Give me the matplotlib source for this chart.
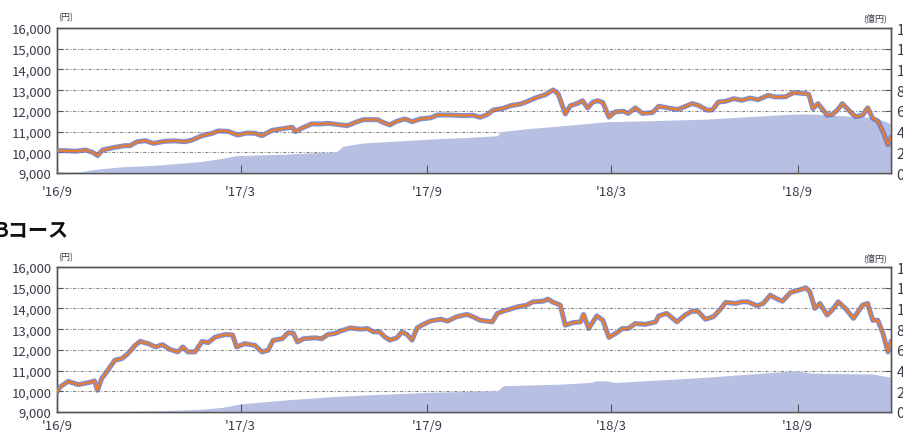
#!/usr/bin/env python3
import numpy as np
import pandas as pd

import matplotlib
matplotlib.use("Agg")
import matplotlib.pyplot as plt
import matplotlib.patheffects as pe

plt.rcParams["font.family"] = ["Noto Sans CJK JP", "DejaVu Sans"]

START = pd.Timestamp("2016-09-01")
END_DAY = 822

# A course: base price (yen) and net assets (100M yen), x = days since 2016/9/1
a_price_days = [0, 8, 18, 28, 35, 40, 45, 57, 67, 72, 79, 87, 95, 106, 116, 126, 133, 143, 153, 159,
                169, 178, 187, 195, 202, 212, 225, 232, 235, 242, 251, 261, 267, 286, 296, 302, 316, 321,
                328, 335, 343, 350, 358, 368, 375, 387, 400, 410, 417, 424, 430, 440, 447, 457, 463, 473,
                481, 489, 494, 501, 506, 513, 518, 523, 528, 533, 538, 544, 550, 558, 563, 570, 577, 587,
                593, 606, 612, 626, 632, 641, 646, 652, 659, 667, 675, 683, 691, 701, 708, 718, 726, 738,
                741, 745, 750, 759, 764, 769, 774, 782, 787, 794, 799, 804, 809, 814, 819, 822]
a_price = [10080, 10080, 10050, 10110, 10000, 9840, 10115, 10240, 10320, 10320, 10510, 10560, 10430,
           10530, 10550, 10510, 10590, 10800, 10915, 11030, 11010, 10830, 10930, 10920, 10800, 11060,
           11160, 11210, 11000, 11180, 11370, 11370, 11400, 11285, 11480, 11575, 11575, 11450, 11320,
           11500, 11610, 11480, 11610, 11660, 11800, 11800, 11770, 11790, 11690, 11820, 12040, 12125,
           12250, 12330, 12440, 12650, 12770, 13010, 12815, 11850, 12250, 12360, 12490, 12140, 12420,
           12490, 12400, 11700, 11950, 11985, 11875, 12145, 11875, 11920, 12225, 12110, 12065, 12350,
           12270, 12030, 12050, 12430, 12460, 12590, 12510, 12620, 12540, 12750, 12670, 12680, 12880,
           12830, 12790, 12110, 12350, 11795, 11820, 12030, 12350, 11950, 11715, 11795, 12145, 11635,
           11510, 11000, 10365, 10700]
a_assets_days = [0, 21, 42, 64, 92, 113, 141, 163, 176, 200, 228, 259, 274, 276, 282, 302, 338, 368,
                 407, 434, 437, 466, 499, 542, 585, 639, 683, 728, 744, 770, 804, 816, 822]
a_assets = [0.0, 0.1, 0.4, 0.6, 0.72, 0.87, 1.1, 1.42, 1.67, 1.75, 1.83, 2.0, 2.05, 2.1, 2.6, 2.9,
            3.1, 3.28, 3.45, 3.6, 3.99, 4.3, 4.57, 4.95, 5.05, 5.2, 5.45, 5.7, 5.7, 5.55, 5.37, 5.0, 4.73]

# B course
b_price_days = [0, 3, 11, 21, 31, 37, 40, 44, 50, 57, 64, 70, 77, 82, 90, 97, 104, 111, 119, 124, 129,
                136, 143, 149, 156, 166, 173, 177, 185, 195, 202, 208, 213, 222, 228, 233, 237, 243, 254,
                261, 267, 274, 279, 289, 299, 306, 312, 318, 323, 328, 335, 340, 345, 350, 355, 361, 368,
                378, 385, 394, 404, 410, 417, 429, 434, 440, 447, 454, 463, 469, 479, 484, 489, 496, 501,
                509, 516, 519, 524, 532, 538, 544, 553, 557, 563, 570, 580, 590, 593, 601, 611, 619, 626,
                632, 639, 647, 654, 659, 669, 675, 681, 690, 696, 703, 710, 715, 723, 731, 738, 742, 747,
                752, 759, 764, 770, 777, 785, 794, 799, 804, 809, 814, 819, 822]
b_price = [9970, 10210, 10480, 10320, 10420, 10500, 10050, 10610, 11010, 11500, 11580, 11820, 12220,
           12410, 12300, 12140, 12250, 12030, 11900, 12140, 11900, 11900, 12410, 12350, 12620, 12740,
           12720, 12140, 12300, 12220, 11900, 11980, 12460, 12540, 12830, 12800, 12380, 12540, 12580,
           12540, 12740, 12790, 12900, 13060, 13000, 13030, 12870, 12870, 12630, 12470, 12580, 12870,
           12740, 12470, 13060, 13230, 13390, 13480, 13390, 13600, 13710, 13600, 13430, 13350, 13760,
           13870, 13970, 14080, 14160, 14320, 14350, 14450, 14300, 14160, 13190, 13320, 13350, 13710,
           13030, 13640, 13430, 12600, 12870, 13030, 13030, 13270, 13230, 13350, 13640, 13760, 13350,
           13680, 13870, 13850, 13480, 13600, 13970, 14290, 14240, 14320, 14320, 14130, 14240, 14640,
           14450, 14350, 14770, 14880, 15000, 14800, 14000, 14240, 13680, 13920, 14320, 14000, 13520,
           14160, 14240, 13430, 13430, 12800, 11900, 12380]
b_assets_days = [0, 31, 92, 141, 163, 180, 228, 274, 302, 368, 434, 440, 499, 526, 532, 543, 550, 639,
                 728, 744, 804, 822]
b_assets = [0.0, 0.02, 0.1, 0.25, 0.45, 0.77, 1.19, 1.5, 1.64, 1.9, 2.06, 2.54, 2.7, 2.86, 3.02, 3.0,
            2.85, 3.35, 3.99, 3.75, 3.67, 3.35]

x_ticks = ["2016-09-01", "2017-03-01", "2017-09-01", "2018-03-01", "2018-09-01"]
x_labels = ["'16/9", "'17/3", "'17/9", "'18/3", "'18/9"]
left_ticks = [9000, 10000, 11000, 12000, 13000, 14000, 15000, 16000]
right_ticks = [0, 2, 4, 6, 8, 10, 12, 14]

LINE_C = "#ef7b22"
EDGE_C = "#6a70b6"
AREA_C = "#b7c0e3"
SPINE_C = "#555555"
TEXT_C = "#3a3a4a"


def to_dates(days):
    return START + pd.to_timedelta(np.asarray(days), unit="D")


def draw_panel(fig, rect, price_days, price, assets_days, assets, xpad):
    ax = fig.add_axes(rect)      # price, left axis
    ax2 = ax.twinx()             # net assets, right axis
    ax.set_zorder(ax2.get_zorder() + 1)
    ax.patch.set_visible(False)
    ax2.patch.set_visible(True)
    ax2.patch.set_facecolor("white")

    ax2.fill_between(to_dates(assets_days), 0, assets, color=AREA_C, lw=0, zorder=3)
    ax2.set_ylim(0, 14)
    ax2.set_yticks(right_ticks)
    ax2.grid(axis="y", color="#8a8a8a", lw=0.8, ls=(0, (3, 1.5, 1, 1.5)), zorder=1)
    ax2.set_axisbelow(True)

    ax.plot(to_dates(price_days), price, color=LINE_C, lw=1.4, zorder=5,
            path_effects=[pe.Stroke(linewidth=3.6, foreground=EDGE_C, alpha=0.8), pe.Normal()])
    ax.set_ylim(9000, 16000)
    ax.set_yticks(left_ticks)
    ax.set_yticklabels([f"{v:,}" for v in left_ticks])

    ax.set_xlim(START, START + pd.Timedelta(days=END_DAY))
    ax.set_xticks(pd.to_datetime(x_ticks))
    ax.set_xticklabels(x_labels)

    ax.tick_params(axis="y", direction="in", length=4, width=0.8, color=SPINE_C,
                   labelsize=9.5, labelcolor=TEXT_C, pad=4)
    ax2.tick_params(axis="y", direction="in", length=4, width=0.8, color=SPINE_C,
                    labelsize=10.5, labelcolor=TEXT_C, pad=4)
    ax.tick_params(axis="x", direction="in", length=6, width=0.8, color=SPINE_C,
                   labelsize=9.5, labelcolor=TEXT_C, pad=xpad)

    for a in (ax, ax2):
        for s in a.spines.values():
            s.set_color(SPINE_C)
            s.set_linewidth(1.0)
    return ax, ax2


def main():
    fig = plt.figure(figsize=(9.04, 4.39), dpi=100)

    W, H = 904.0, 439.0
    left, right = 57, 891
    # top panel: y 29..174 px, bottom panel: y 268..413 px
    rect_a = [left / W, 1 - 174 / H, (right - left) / W, 145 / H]
    rect_b = [left / W, 1 - 413 / H, (right - left) / W, 145 / H]

    draw_panel(fig, rect_a, a_price_days, a_price, a_assets_days, a_assets, xpad=9)
    draw_panel(fig, rect_b, b_price_days, b_price, b_assets_days, b_assets, xpad=5)

    for ytop in (18, 258):
        fig.text(66 / W, 1 - ytop / H, "(円)", ha="center", va="center",
                 fontsize=6.5, color=TEXT_C)
        fig.text(875 / W, 1 - ytop / H, "(億円)", ha="center", va="center",
                 fontsize=6.5, color=TEXT_C)

    fig.text(-6 / W, 1 - 230 / H, "Bコース", ha="left", va="center",
             fontsize=14.5, fontweight="bold", color="#111111")

    fig.savefig("out.png", dpi=100)


if __name__ == "__main__":
    main()
